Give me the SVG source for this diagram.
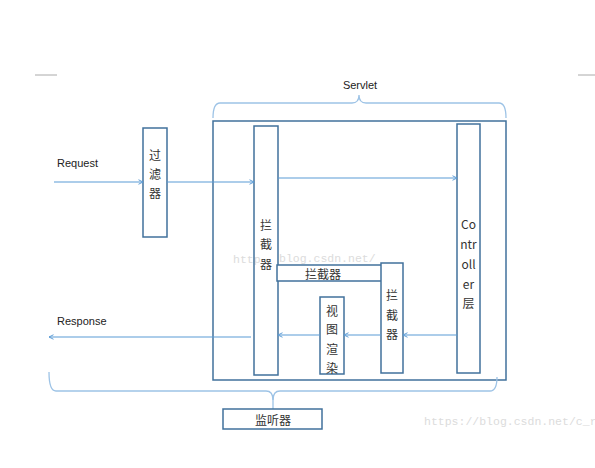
<svg xmlns="http://www.w3.org/2000/svg" width="595" height="468" viewBox="0 0 595 468">
<style>
.box{fill:#fff;stroke:#41719c;stroke-width:1.5}
.frame{fill:none;stroke:#41719c;stroke-width:1.5}
.arr{fill:none;stroke:#5b9bd5;stroke-width:1.2;marker-end:url(#ah)}
.brace{fill:none;stroke:#9dc3e6;stroke-width:1.3}
.t{font-family:"Liberation Sans","Noto Sans CJK SC",sans-serif;font-size:11px;fill:#222}
.c{font-family:"Noto Sans CJK SC","Liberation Sans",sans-serif;font-size:12px;fill:#333;text-anchor:middle;dominant-baseline:central}
.wm{font-family:"Liberation Mono",monospace;font-size:11.5px;fill:#dcdcdc}
</style>
<defs>
<marker id="ah" viewBox="0 0 8 8" refX="7" refY="4" markerWidth="6" markerHeight="6" markerUnits="userSpaceOnUse" orient="auto">
<path d="M1,1 L7,4 L1,7" fill="none" stroke="#5b9bd5" stroke-width="1.3"/>
</marker>
</defs>
<rect width="595" height="468" fill="#fff"/>
<line x1="35" y1="75" x2="57" y2="75" stroke="#aaa" stroke-width="1"/>
<line x1="578" y1="75" x2="595" y2="75" stroke="#aaa" stroke-width="1"/>
<text class="wm" x="424" y="425">https://blog.csdn.net/c_r</text>
<g id="servlet">
<rect class="frame" x="213" y="121" width="293" height="259"/>
<path class="brace" d="M213,118 Q213,103 220,103 L352,103 Q359,103 359,95 Q359,103 366,103 L499,103 Q506,103 506,118"/>
<text class="t" x="360" y="89" text-anchor="middle" font-size="12">Servlet</text>
</g>
<text class="wm" x="233" y="263">http</text>
<text class="wm" x="279" y="262">blog.csdn.net/</text>
<g id="listener">
<path class="brace" d="M49,372 Q49,391 56,391 L266,391 Q273,391 273,400 Q273,391 280,391 L490,391 Q497,391 497,377"/>
<line class="brace" x1="273" y1="398" x2="273" y2="409"/>
<rect class="box" x="223" y="409" width="99" height="20"/>
<text class="c" x="273" y="419">监听器</text>
</g>
<g id="filter">
<rect class="box" x="143" y="128" width="24" height="109"/>
<text class="c" x="155" y="154">过</text>
<text class="c" x="155" y="173">滤</text>
<text class="c" x="155" y="192">器</text>
</g>
<g id="interceptor1">
<rect class="box" x="254" y="126" width="24" height="249" fill-opacity="0"/>
<text class="c" x="266" y="224">拦</text>
<text class="c" x="266" y="243">截</text>
<text class="c" x="266" y="263">器</text>
</g>
<g id="interceptor2">
<rect class="box" x="277" y="265" width="105" height="16"/>
<text class="c" x="323" y="273">拦截器</text>
</g>
<g id="interceptor3">
<rect class="box" x="381" y="263" width="22" height="110"/>
<text class="c" x="392" y="294">拦</text>
<text class="c" x="392" y="314">截</text>
<text class="c" x="392" y="333">器</text>
</g>
<g id="view">
<rect class="box" x="320" y="297" width="24" height="77"/>
<text class="c" x="332" y="310">视</text>
<text class="c" x="332" y="328">图</text>
<text class="c" x="332" y="348">渲</text>
<text class="c" x="332" y="367">染</text>
</g>
<g id="controller">
<rect class="box" x="457" y="124" width="23" height="249"/>
<text class="c" x="468.5" y="223">Co</text>
<text class="c" x="468.5" y="243">ntr</text>
<text class="c" x="468.5" y="263">oll</text>
<text class="c" x="468.5" y="283">er</text>
<text class="c" x="468.5" y="302">层</text>
</g>
<g id="connectors">
<text class="t" x="57" y="167">Request</text>
<text class="t" x="57" y="325">Response</text>
<line class="arr" x1="54" y1="182" x2="143" y2="182"/>
<line class="arr" x1="167" y1="182" x2="254" y2="182"/>
<line class="arr" x1="278" y1="178" x2="457" y2="178"/>
<line class="arr" x1="457" y1="335" x2="403" y2="335"/>
<line class="arr" x1="381" y1="335" x2="344" y2="335"/>
<line class="arr" x1="320" y1="335" x2="278" y2="335"/>
<line class="arr" x1="251" y1="337" x2="49" y2="337"/>
</g>
</svg>
